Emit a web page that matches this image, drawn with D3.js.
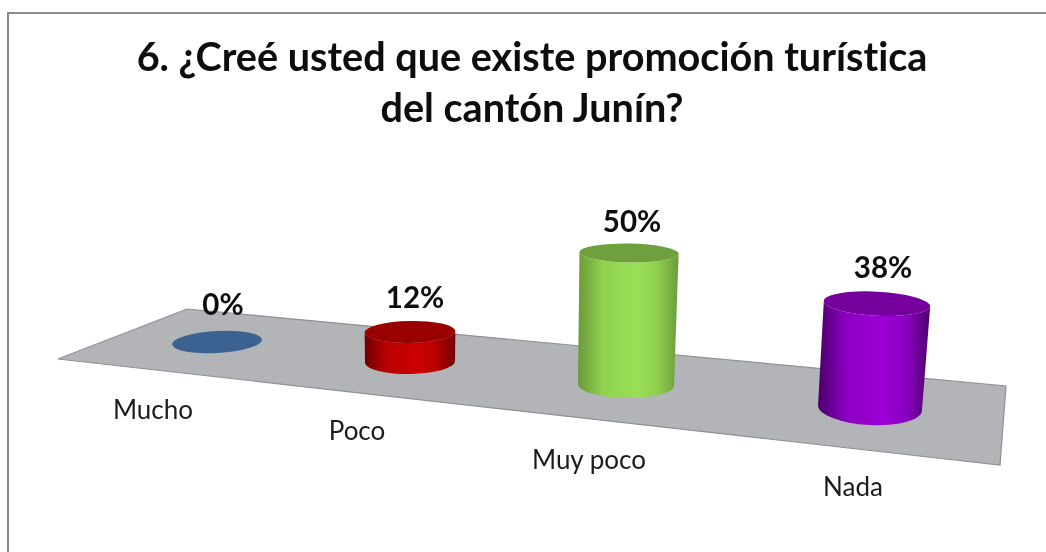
<!DOCTYPE html>
<html><head><meta charset="utf-8">
<script src="https://cdn.jsdelivr.net/npm/d3@7/dist/d3.min.js"></script>
<style>html,body{margin:0;padding:0;background:#fff;overflow:hidden}svg{display:block}text{font-variant-ligatures:none}</style>
</head><body><svg id="c" width="1046" height="552"></svg>
<script>
const categories = ["Mucho","Poco","Muy poco","Nada"];
const values = [0,12,50,38];
const titleLines = ["6. ¿Creé usted que existe promoción turística","del cantón Junín?"];
const topColors = ["#3b6291","#990000","#6f9f3c","#74009c"];
const midColors = ["#3b6291","#cc0000","#9adf56","#9c00d6"];
const edgeColors = ["#3b6291","#700000","#6a9a38","#4a006c"];

const svg = d3.select("#c");
const idx = categories.map((_,i)=>i);
const cx = d3.scaleLinear().domain(idx).range([217,410,626,870]);
const cy = d3.scaleLinear().domain(idx).range([342,362,385,408]);
const rx = d3.scaleLinear().domain(idx).range([45,45,48,52]);
const ry = d3.scaleLinear().domain(idx).range([11,12,13,17]);
const tilt = d3.scaleLinear().domain(idx).range([-3,-1,1,3]);
const depth = d3.scaleLinear().domain(idx).range([1,.95,1,1.04]);
const lean = d3.scaleLinear().domain(idx).range([0,0,.023,.067]);
const topRy = d3.scaleLinear().domain(idx).range([11,11,9.5,12]);
const h = d3.scaleLinear().domain([0,50]).range([0,132]);
const labelDx = d3.scaleLinear().domain(idx).range([6,5,3,6]);
const labelDy = d3.scaleLinear().domain(idx).range([16,13,12,14]);

const defs = svg.append("defs");
defs.append("filter").attr("id","soft").append("feGaussianBlur").attr("stdDeviation",0.4);
idx.forEach(i=>{
  const g = defs.append("linearGradient").attr("id","g"+i);
  [[0,edgeColors[i]],[.25,d3.interpolateRgb(edgeColors[i],midColors[i])(.8)],[.58,midColors[i]],[.8,d3.interpolateRgb(edgeColors[i],midColors[i])(.75)],[1,edgeColors[i]]]
    .forEach(([o,c])=>g.append("stop").attr("offset",o).attr("stop-color",c));
});

const root = svg.append("g").attr("filter","url(#soft)");
root.append("rect").attr("x",8).attr("y",13).attr("width",1040).attr("height",545)
  .attr("fill","#fff").attr("stroke","#8b8b8b").attr("stroke-width",2);

const floor = [[58,359],[187,309],[1006,386],[1000,465]];
root.append("path").attr("d",d3.line()(floor)+"Z").attr("fill","#b2b4b8").attr("stroke","#8e9094").attr("stroke-width",1.2);

const marks = root.selectAll("g.bar").data(idx).join("g").attr("class","bar");
function pt(x,y,r,deg,s){const a=deg*Math.PI/180;return [x+s*r*Math.cos(a),y+s*r*Math.sin(a)];}
marks.each(function(i){
  const g = d3.select(this), H = h(values[i])*depth(i), t = tilt(i);
  const x0 = cx(i), y0 = cy(i), r = rx(i), b = ry(i);
  const x1 = x0+H*lean(i), y1 = y0-H, r1 = r+H*.012, b1 = topRy(i);
  if(H>0){
    const bl=pt(x0,y0,r,t,-1), br=pt(x0,y0,r,t,1), tl=pt(x1,y1,r1,t,-1), tr=pt(x1,y1,r1,t,1);
    g.append("path").attr("d",`M${tl}L${bl}A${r} ${b} ${t} 0 0 ${br}L${tr}A${r1} ${b1} ${t} 0 1 ${tl}Z`).attr("fill",`url(#g${i})`);
  }
  g.append("ellipse").attr("cx",x1).attr("cy",y1).attr("rx",r1).attr("ry",b1)
    .attr("transform",`rotate(${t} ${x1} ${y1})`).attr("fill",topColors[i]);
  g.append("text").attr("x",x1+labelDx(i)).attr("y",y1-b1-labelDy(i)).attr("text-anchor","middle")
    .attr("font-family","Lato").attr("font-weight",700).attr("font-size",29.5).attr("fill","#111").text(values[i]+"%");
});

const labelX = [153,357,589,853], labelY=[419,440,469,496];
root.selectAll("text.cat").data(categories).join("text").attr("class","cat")
  .attr("x",(d,i)=>labelX[i]).attr("y",(d,i)=>labelY[i]).attr("text-anchor","middle")
  .attr("font-family","Lato").attr("font-size",26).attr("fill","#1a1a1a").text(d=>d);

root.selectAll("text.title").data(titleLines).join("text").attr("class","title")
  .attr("x",532).attr("y",(d,i)=>71+i*51).attr("text-anchor","middle")
  .attr("font-family","Lato").attr("font-weight",700).attr("font-size",39.6).attr("fill","#0a0a0a").text(d=>d);
</script></body></html>
